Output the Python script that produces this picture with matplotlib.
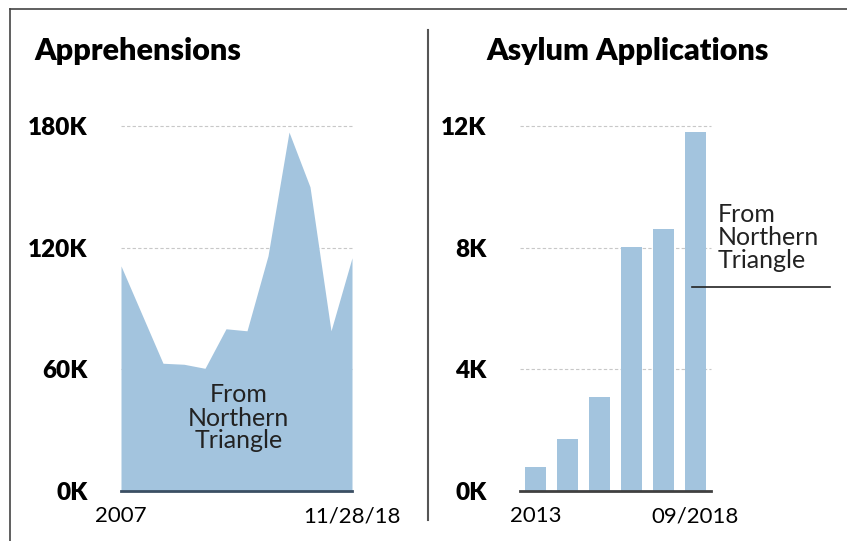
import matplotlib
matplotlib.use('Agg')
import matplotlib.pyplot as plt
from matplotlib.lines import Line2D

plt.rcParams['font.family'] = ['Lato', 'DejaVu Sans']

# apprehensions from Northern Triangle, thousands (FY2007 .. 11/28/18)
appr_years = list(range(12))
appr_vals = [111, 87, 63, 62.5, 60.5, 80, 79, 116, 177, 150, 79, 115]
appr_ticks = ['2007', '11/28/18']
appr_yticks = [0, 60, 120, 180]

# asylum applications, thousands (2013 .. 09/2018)
asy_vals = [0.78, 1.72, 3.08, 8.01, 8.63, 11.8]
asy_ticks = ['2013', '09/2018']
asy_yticks = [0, 4, 8, 12]

W, H = 847, 541
fill = '#a3c4de'
fig = plt.figure(figsize=(W / 100, H / 100), dpi=100)

def px(x0, y0, x1, y1):
    return [x0 / W, (H - y1) / H, (x1 - x0) / W, (y1 - y0) / H]

def style(ax, yt, fmt):
    for s in ax.spines.values():
        s.set_visible(False)
    ax.set_yticks(yt)
    ax.set_yticklabels([fmt % v for v in yt], fontsize=17.5, fontweight='heavy')
    ax.tick_params(axis='y', length=0, pad=24)
    ax.tick_params(axis='x', length=0, pad=11, labelsize=16)
    for v in yt[1:]:
        ax.axhline(v, color='#c8c8c8', lw=0.8, ls=(0, (3, 2)), zorder=0, clip_on=False)

# left: apprehensions
ax1 = fig.add_axes(px(121, 126, 352, 491))
ax1.fill_between(appr_years, appr_vals, 0, color=fill, lw=0, zorder=2)
ax1.set_xlim(0, 11)
ax1.set_ylim(0, 180)
style(ax1, appr_yticks, '%dK')
ax1.set_xticks([appr_years[0], appr_years[-1]])
ax1.set_xticklabels(appr_ticks)
ax1.axhline(0, color='#3b4f63', lw=2, zorder=3, clip_on=False)
ax1.text(5.6, 36, 'From\nNorthern\nTriangle', ha='center', va='center',
         fontsize=18, color='#222222', linespacing=1.0, zorder=4)

# right: asylum applications
ax2 = fig.add_axes(px(520, 126, 711, 491))
xs = list(range(len(asy_vals)))
ax2.bar(xs, asy_vals, width=0.66, color=fill, zorder=2)
ax2.set_xlim(-0.5, 5.5)
ax2.set_ylim(0, 12)
style(ax2, asy_yticks, '%dK')
ax2.set_xticks([xs[0], xs[-1]])
ax2.set_xticklabels(asy_ticks)
ax2.axhline(0, color='#404040', lw=2, zorder=3, clip_on=False)
ax2.text(5.7, 8.35, 'From\nNorthern\nTriangle', ha='left', va='center',
         fontsize=18, color='#222222', linespacing=1.0)
ax2.plot([4.91, 9.25], [6.7, 6.7], color='#222222', lw=1.2, clip_on=False)

# titles
fig.text(34 / W, 1 - 51 / H, 'Apprehensions', fontsize=22, fontweight='heavy',
         va='center', ha='left')
fig.text(486 / W, 1 - 51 / H, 'Asylum Applications', fontsize=22, fontweight='heavy',
         va='center', ha='left')

# frame and divider
fig.add_artist(Line2D([10 / W, 1], [1 - 9 / H, 1 - 9 / H], color='#444444', lw=1.2))
fig.add_artist(Line2D([10 / W, 10 / W], [0, 1 - 9 / H], color='#444444', lw=1.2))
fig.add_artist(Line2D([428 / W, 428 / W], [1 - 30 / H, 1 - 520 / H], color='#555555', lw=1.5))

fig.savefig('out.png', dpi=100)
